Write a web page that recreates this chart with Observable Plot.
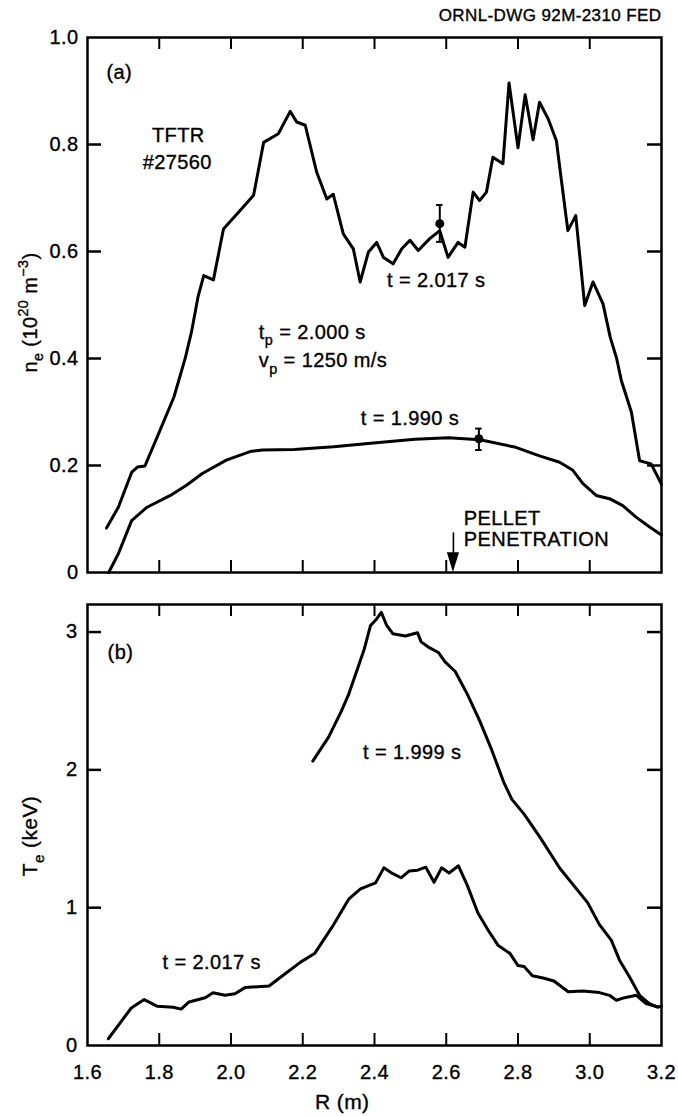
<!DOCTYPE html>
<html>
<head>
<meta charset="utf-8">
<script src="https://cdn.jsdelivr.net/npm/d3@7"></script>
<script src="https://cdn.jsdelivr.net/npm/@observablehq/plot@0.6"></script>
<style>
  body { margin: 0; background: #fff; }
  #wrap { width: 678px; height: 1116px; }
  #wrap svg { display: block; }
  #wrap svg text { stroke: #000; stroke-width: 0.35px; }
</style>
</head>
<body>
<div id="wrap"></div>
<script>
// ---- axis ticks ----
const R_TICKS = [1.6, 1.8, 2.0, 2.2, 2.4, 2.6, 2.8, 3.0, 3.2];
const NE_TICKS = [0, 0.2, 0.4, 0.6, 0.8, 1.0];
const TE_TICKS = [0, 1, 2, 3];

// ---- (a) electron density, t = 2.017 s (after pellet) ----
const neR2017 = [1.653,1.686,1.723,1.739,1.760,1.798,1.841,1.873,1.890,1.908,1.924,1.951,1.979,2.026,2.063,2.091,2.132,2.165,2.183,2.207,2.239,2.267,2.285,2.313,2.341,2.360,2.383,2.406,2.425,2.452,2.476,2.499,2.522,2.554,2.582,2.605,2.633,2.652,2.675,2.693,2.712,2.730,2.758,2.775,2.800,2.820,2.842,2.860,2.884,2.907,2.921,2.939,2.961,2.986,3.009,3.037,3.057,3.075,3.088,3.116,3.139,3.171,3.200];
const ne2017 = [0.083,0.122,0.187,0.197,0.199,0.259,0.328,0.402,0.450,0.515,0.555,0.547,0.642,0.677,0.705,0.804,0.820,0.862,0.842,0.836,0.748,0.698,0.707,0.633,0.605,0.543,0.599,0.617,0.589,0.577,0.605,0.621,0.602,0.624,0.639,0.589,0.617,0.608,0.711,0.695,0.711,0.776,0.764,0.915,0.794,0.893,0.809,0.879,0.848,0.807,0.733,0.639,0.667,0.499,0.543,0.502,0.440,0.400,0.359,0.300,0.209,0.203,0.165];

// ---- (a) electron density, t = 1.990 s (before pellet) ----
const neR1990 = [1.659,1.686,1.723,1.766,1.831,1.876,1.920,1.987,2.053,2.087,2.176,2.286,2.397,2.513,2.606,2.694,2.794,2.860,2.916,2.953,2.981,3.018,3.055,3.092,3.130,3.167,3.200];
const ne1990 = [0.000,0.035,0.097,0.122,0.144,0.163,0.185,0.210,0.226,0.229,0.230,0.235,0.242,0.249,0.252,0.248,0.234,0.218,0.206,0.191,0.166,0.144,0.138,0.125,0.103,0.085,0.070];

// ---- (a) representative error bars ----
const errR = [2.582, 2.691];
const errMid = [0.652, 0.250];
const errLo = [0.618, 0.229];
const errHi = [0.687, 0.269];

// ---- (b) electron temperature, t = 1.999 s ----
const teR1999 = [2.228,2.272,2.306,2.328,2.350,2.372,2.389,2.406,2.419,2.434,2.451,2.486,2.520,2.530,2.549,2.578,2.596,2.625,2.659,2.693,2.727,2.761,2.783,2.817,2.861,2.917,2.994,3.027,3.060,3.083,3.111,3.139,3.166,3.190];
const te1999 = [2.064,2.238,2.417,2.548,2.714,2.881,3.048,3.095,3.143,3.048,2.988,2.971,2.995,2.929,2.893,2.852,2.786,2.714,2.548,2.357,2.143,1.905,1.786,1.679,1.512,1.284,1.037,0.877,0.765,0.619,0.497,0.364,0.304,0.279];

// ---- (b) electron temperature, t = 2.017 s ----
const teR2017 = [1.658,1.722,1.758,1.795,1.839,1.861,1.883,1.928,1.950,1.983,2.011,2.039,2.106,2.150,2.194,2.233,2.283,2.328,2.361,2.403,2.426,2.451,2.474,2.497,2.520,2.543,2.566,2.587,2.608,2.634,2.659,2.688,2.716,2.744,2.778,2.800,2.817,2.840,2.870,2.900,2.940,2.981,3.027,3.055,3.074,3.097,3.130,3.157,3.190,3.200];
const te2017 = [0.049,0.272,0.333,0.284,0.277,0.264,0.316,0.346,0.383,0.365,0.375,0.420,0.432,0.519,0.605,0.667,0.864,1.062,1.136,1.180,1.289,1.247,1.217,1.267,1.272,1.294,1.185,1.289,1.252,1.304,1.160,0.963,0.840,0.728,0.667,0.580,0.573,0.506,0.490,0.468,0.390,0.396,0.384,0.364,0.328,0.347,0.364,0.304,0.279,0.285];

// ---- annotations (positions in data units) ----
const PELLET_R = 2.62;
const labelsA = [
  {text: "(a)", r: 1.653, v: 0.935},
  {text: "t = 2.017 s", r: 2.435, v: 0.546},
  {text: "t = 1.990 s", r: 2.362, v: 0.288},
  {text: "PELLET", r: 2.649, v: 0.101},
  {text: "PENETRATION", r: 2.649, v: 0.062}
];
const shotLabels = [
  {text: "TFTR", r: 1.853, v: 0.817},
  {text: "#27560", r: 1.850, v: 0.766}
];
const pelletLabels = [
  {r: 2.079, v: 0.449, parts: [["t"], ["p", "sub"], [" = 2.000 s"]]},
  {r: 2.079, v: 0.396, parts: [["v"], ["p", "sub"], [" = 1250 m/s"]]}
];
const labelsB = [
  {text: "(b)", r: 1.656, v: 2.852},
  {text: "t = 1.999 s", r: 2.368, v: 2.126},
  {text: "t = 2.017 s", r: 1.809, v: 0.602}
];

const FONT = '"Liberation Sans", Arial, Helvetica, sans-serif';
const W = 678, ML = 87, MR = 17;
const TXT = 20;

const series = (xs, ys) => xs.map((r, i) => ({r, v: ys[i]}));
const innerR = R_TICKS.slice(1, -1);

// inward ticks on all four sides of a panel
function frameTicks(xTicks, yTicks, frameH, frameW, len) {
  return [
    Plot.tickX(xTicks, {x: d => d, insetTop: frameH - len, strokeWidth: 2}),
    Plot.tickX(xTicks, {x: d => d, insetBottom: frameH - len, strokeWidth: 2}),
    Plot.tickY(yTicks, {y: d => d, insetRight: frameW - len - 2, strokeWidth: 2.5}),
    Plot.tickY(yTicks, {y: d => d, insetLeft: frameW - len - 2, strokeWidth: 2.5})
  ];
}

// text with sub/superscripts
function richText(svg, x, y, parts, size, opts = {}) {
  const t = d3.select(svg).append("text")
    .attr("font-family", FONT)
    .attr("font-size", size)
    .attr("fill", "black")
    .attr("letter-spacing", opts.spacing ?? 0.4)
    .attr("text-anchor", opts.anchor || "start");
  if (opts.rotate) t.attr("transform", `translate(${x},${y}) rotate(-90)`);
  else t.attr("x", x).attr("y", y);
  let shift = 0;
  for (const [s, kind] of parts) {
    const target = kind === "sub" ? 0.32 * size : kind === "sup" ? -0.45 * size : 0;
    t.append("tspan")
      .attr("dy", target - shift)
      .attr("font-size", kind ? 0.72 * size : size)
      .text(s);
    shift = target;
  }
}

const textStyle = {fontFamily: FONT, fontSize: `${TXT}px`, color: "black", background: "white", letterSpacing: "0.4px"};
const lineOpts = {x: "r", y: "v", strokeWidth: 3, strokeLinejoin: "round", strokeLinecap: "round"};

// ---------------- panel (a) ----------------
const HA = 590, MTA = 37, MBA = 18;
const frameHA = HA - MTA - MBA, frameW = W - ML - MR;

const plotA = Plot.plot({
  width: W, height: HA,
  marginLeft: ML, marginRight: MR, marginTop: MTA, marginBottom: MBA,
  style: textStyle,
  x: {domain: [1.6, 3.2], axis: null},
  y: {domain: [0, 1]},
  marks: [
    Plot.frame({strokeWidth: 2.5}),
    ...frameTicks(innerR, NE_TICKS.slice(1, -1), frameHA, frameW, 12),
    Plot.axisY({ticks: NE_TICKS, tickSize: 0, tickPadding: 9, label: null,
      tickFormat: d => d === 0 ? "0" : d.toFixed(1)}),
    Plot.line(series(neR2017, ne2017), lineOpts),
    Plot.line(series(neR1990, ne1990), lineOpts),
    // error bars
    Plot.ruleX(errR.map((r, i) => ({r, lo: errLo[i], hi: errHi[i]})), {x: "r", y1: "lo", y2: "hi", strokeWidth: 2}),
    Plot.ruleY(errR.flatMap((r, i) => [{r, v: errLo[i]}, {r, v: errHi[i]}]),
      {y: "v", x1: d => d.r - 0.009, x2: d => d.r + 0.009, strokeWidth: 2}),
    Plot.dot(errR.map((r, i) => ({r, v: errMid[i]})), {x: "r", y: "v", r: 4.5, fill: "black"}),
    // pellet penetration arrow
    Plot.ruleX([PELLET_R], {x: d => d, y1: 0.03, y2: 0.074, strokeWidth: 1.6}),
    Plot.areaY([-1, 0, 1].map(k => ({r: PELLET_R + k * 0.017, top: 0.037, tip: Math.abs(k) * 0.037})),
      {x: "r", y1: "top", y2: "tip", fill: "black"}),
    Plot.text(labelsA, {x: "r", y: "v", text: "text", textAnchor: "start", fontSize: TXT, lineAnchor: "middle"}),
    Plot.text(shotLabels, {x: "r", y: "v", text: "text", textAnchor: "middle", fontSize: TXT, lineAnchor: "middle"}),
    Plot.text(["ORNL-DWG 92M-2310 FED"], {frameAnchor: "top-right", textAnchor: "end", lineAnchor: "middle", dy: -22, fontSize: 17})
  ]
});
document.getElementById("wrap").appendChild(plotA);

{
  const sx = plotA.scale("x"), sy = plotA.scale("y");
  for (const l of pelletLabels) {
    richText(plotA, sx.apply(l.r), sy.apply(l.v) + 0.36 * TXT, l.parts, TXT);
  }
  // y-axis title
  richText(plotA, 37, (MTA + HA - MBA) / 2 + 8,
    [["n"], ["e", "sub"], [" (10"], ["20", "sup"], [" m"], ["\u22123", "sup"], [")"]],
    TXT, {rotate: true, anchor: "middle"});
}

// ---------------- panel (b) ----------------
const HB = 526, MTB = 14, MBB = 71;
const frameHB = HB - MTB - MBB;

const plotB = Plot.plot({
  width: W, height: HB,
  marginLeft: ML, marginRight: MR, marginTop: MTB, marginBottom: MBB,
  style: textStyle,
  x: {domain: [1.6, 3.2]},
  y: {domain: [0, 3.2]},
  marks: [
    Plot.frame({strokeWidth: 2.5}),
    ...frameTicks(innerR, TE_TICKS.slice(1), frameHB, frameW, 12),
    Plot.axisY({ticks: TE_TICKS, tickSize: 0, tickPadding: 10, label: null, tickFormat: d => String(d)}),
    Plot.axisX({ticks: R_TICKS, tickSize: 0, tickPadding: 19, label: null, tickFormat: d => d.toFixed(1)}),
    Plot.line(series(teR1999, te1999), lineOpts),
    Plot.line(series(teR2017, te2017), lineOpts),
    Plot.text(labelsB, {x: "r", y: "v", text: "text", textAnchor: "start", fontSize: TXT, lineAnchor: "middle"}),
    Plot.text(["R (m)"], {x: 2.31, frameAnchor: "bottom", lineAnchor: "middle", dy: 57, fontSize: TXT + 1})
  ]
});
document.getElementById("wrap").appendChild(plotB);

{
  richText(plotB, 37, 246, [["T"], ["e", "sub"], [" (keV)"]], TXT + 1, {rotate: true, anchor: "middle"});
}
</script>
</body>
</html>
